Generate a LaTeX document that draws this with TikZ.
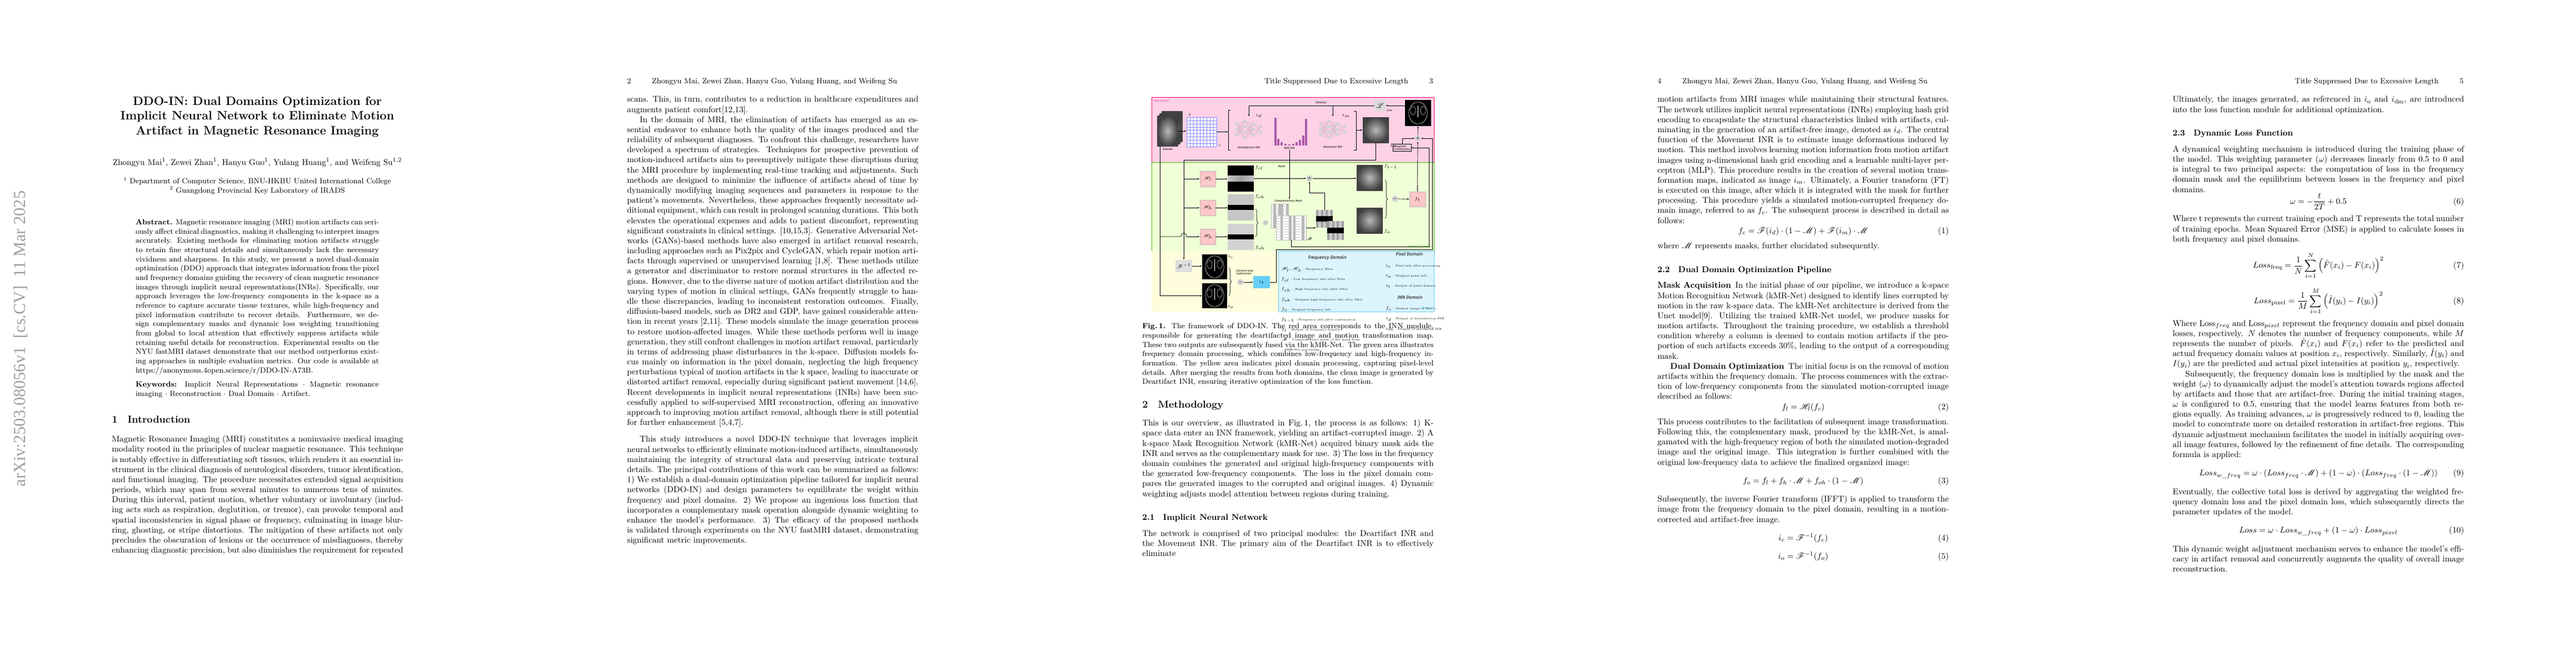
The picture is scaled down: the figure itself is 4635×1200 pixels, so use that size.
\documentclass[tikz,border=0pt]{standalone}
\usepackage{fontspec}
\usepackage{amsmath}
\usepackage{mathrsfs}
\usetikzlibrary{arrows.meta,decorations.pathreplacing,calc}
\newfontfamily\stampfont{Liberation Serif}
\newfontfamily\figsans{Fira Sans}
\newcommand\bodyf{\fontsize{10}{12}\selectfont}
\newcommand\smallf{\fontsize{9}{11}\selectfont}
\newcommand\figf{\figsans\itshape\fontsize{3.4}{3.9}\selectfont}
\newcommand\legf{\fontsize{3.4}{4.6}\selectfont}
\newcommand\pstart{\setlength\parindent{15pt}\setlength\parskip{0pt}\noindent}
\tikzset{
 body/.style={anchor=north west, inner sep=0, text width=346pt, align=justify, font=\bodyf},
 arr/.style={-{Latex[length=2.2pt,width=1.8pt]}, line width=0.45pt},
 ln/.style={line width=0.45pt},
 sz/.style 2 args={minimum width={#1*0.66pt}, minimum height={#2*0.66pt}, inner sep=0},
 kimg/.style={shading=radial, inner color=gray!55, outer color=black!75},
 brain/.style={fill=black, path picture={\draw[white!85, line width=0.35pt] (path picture bounding box.center) ellipse[x radius=11pt, y radius=13pt];
   \draw[white!70, line width=0.3pt] ([yshift=9pt]path picture bounding box.center) -- ([yshift=-5pt]path picture bounding box.center);
   \draw[white!55, line width=0.25pt] ([xshift=-6pt,yshift=3pt]path picture bounding box.center) ellipse[x radius=3pt, y radius=5pt];
   \draw[white!55, line width=0.25pt] ([xshift=6pt,yshift=3pt]path picture bounding box.center) ellipse[x radius=3pt, y radius=5pt];}},
 fbox/.style={draw=gray!55, fill=red!22, font=\fontsize{5.5}{5.5}\selectfont},
 opc/.style={circle, fill=gray!35, minimum size=6.6pt, inner sep=0, font=\fontsize{6}{6}\selectfont},
 band/.style={fill=gray!45, path picture={\fill[black] ([yshift=-3.2pt]path picture bounding box.west) rectangle ([yshift=3.2pt]path picture bounding box.east);}},
 lowband/.style={fill=black, path picture={\shade[left color=gray!45, right color=gray!45, middle color=gray!75] ([yshift=-3.6pt]path picture bounding box.west) rectangle ([yshift=3.6pt]path picture bounding box.east);}},
 stripes/.style={fill=white, draw=gray!50, line width=0.2pt, path picture={
   \foreach \k in {1,3,4,6}{\fill[gray!60] ($(path picture bounding box.south west)!{\k/7}!(path picture bounding box.south east)$) rectangle ++(3pt,40pt);}
   \foreach \k in {1,...,8}{\draw[gray!40,line width=0.15pt] ($(path picture bounding box.south west)!{\k/9}!(path picture bounding box.north west)$) -- ++(40pt,0);}}},
 mstripes/.style={fill=gray!40, path picture={
   \foreach \k in {0,2,4,6}{\fill[gray!75] ($(path picture bounding box.south west)!{\k/7}!(path picture bounding box.south east)$) rectangle ++(2.8pt,40pt);}
   \fill[black] ([yshift=-3pt]path picture bounding box.west) rectangle ([yshift=3pt]path picture bounding box.east);}},
 lab/.style={font=\figf, inner sep=0.5pt},
 hdr/.style={font=\smallf, inner sep=0}
}
\newcommand\nnet[2]{%
 \foreach \a in {-10,0,10}{\foreach \b in {-15,-5,5,15}{\draw[gray!70,line width=0.2pt] ({#1-22},{#2+\a}) -- ({#1-7},{#2+\b});}}
 \foreach \a in {-15,-5,5,15}{\foreach \b in {-10,0,10}{\draw[gray!70,line width=0.2pt] ({#1-7},{#2+\a}) -- ({#1+8},{#2+\b});}}
 \foreach \a in {-10,0,10}{\foreach \b in {-5,5}{\draw[gray!70,line width=0.2pt] ({#1+8},{#2+\a}) -- ({#1+22},{#2+\b});}}
 \foreach \a in {-10,0,10}{\fill[gray!35] ({#1-22},{#2+\a}) circle[radius=2pt]; \fill[gray!35] ({#1+8},{#2+\a}) circle[radius=2pt];}
 \foreach \a in {-15,-5,5,15}{\fill[gray!35] ({#1-7},{#2+\a}) circle[radius=2pt];}
 \foreach \a in {-5,5}{\fill[gray!35] ({#1+22},{#2+\a}) circle[radius=2pt];}}
\begin{document}
\begin{tikzpicture}[x=0.66pt,y=-0.66pt]
\useasboundingbox (0,0) rectangle (4635,1200);
\fill[white] (0,0) rectangle (4635,1200);

% ================= PAGE 1 =================
\node[rotate=90, text=gray!75, font=\stampfont\fontsize{20}{20}\selectfont, inner sep=0] (stamp) at (37,610) {arXiv:2503.08056v1\ \ [cs.CV]\ \ 11 Mar 2025};
\node[anchor=north, inner sep=0, align=center, font=\fontsize{14.4}{17.3}\selectfont\bfseries] (title) at (463,174)
 {DDO-IN: Dual Domains Optimization for\\Implicit Neural Network to Eliminate Motion\\Artifact in Magnetic Resonance Imaging};
\node[anchor=base, inner sep=0, font=\bodyf] (authors) at (463,297)
 {Zhongyu Mai$^{1}$, Zewei Zhan$^{1}$, Hanyu Guo$^{1}$, Yulang Huang$^{1}$, and Weifeng Su$^{1,2}$};
\node[anchor=north, inner sep=0, align=center, font=\smallf] (affil) at (463,319)
 {$^{1}$ Department of Computer Science, BNU-HKBU United International College\\ $^{2}$ Guangdong Provincial Key Laboratory of IRADS};
\node[anchor=north, inner sep=0, text width=289pt, align=justify, font=\smallf] (abstract) at (463,394)
 {\textbf{Abstract.} Magnetic resonance imaging (MRI) motion artifacts can seriously affect clinical diagnostics, making it challenging to interpret images accurately. Existing methods for eliminating motion artifacts struggle to retain fine structural details and simultaneously lack the necessary vividness and sharpness. In this study, we present a novel dual-domain optimization (DDO) approach that integrates information from the pixel and frequency domains guiding the recovery of clean magnetic resonance images through implicit neural representations(INRs). Specifically, our approach leverages the low-frequency components in the k-space as a reference to capture accurate tissue textures, while high-frequency and pixel information contribute to recover details. Furthermore, we design complementary masks and dynamic loss weighting transitioning from global to local attention that effectively suppress artifacts while retaining useful details for reconstruction. Experimental results on the NYU fastMRI dataset demonstrate that our method outperforms existing approaches in multiple evaluation metrics. Our code is available at https://anonymous.4open.science/r/DDO-IN-A73B.};
\node[anchor=north, inner sep=0, text width=289pt, align=justify, font=\smallf] (keywords) at (463,687)
 {\textbf{Keywords:} Implicit Neural Representations $\cdot$ Magnetic resonance imaging $\cdot$ Reconstruction $\cdot$ Dual Domain $\cdot$ Artifact.};
\node[anchor=base west, inner sep=0, font=\fontsize{12}{14}\selectfont\bfseries] (sec1) at (201,761) {1\hspace{1em}Introduction};
\node[body] (p1text) at (201,784) {\pstart Magnetic Resonance Imaging (MRI) constitutes a noninvasive medical imaging modality rooted in the principles of nuclear magnetic resonance. This technique is notably effective in differentiating soft tissues, which renders it an essential instrument in the clinical diagnosis of neurological disorders, tumor identification, and functional imaging. The procedure necessitates extended signal acquisition periods, which may span from several minutes to numerous tens of minutes. During this interval, patient motion, whether voluntary or involuntary (including acts such as respiration, deglutition, or tremor), can provoke temporal and spatial inconsistencies in signal phase or frequency, culminating in image blurring, ghosting, or stripe distortions. The mitigation of these artifacts not only precludes the obscuration of lesions or the occurrence of misdiagnoses, thereby enhancing diagnostic precision, but also diminishes the requirement for repeated};

% ================= PAGE 2 =================
\node[hdr, anchor=base west] (h2) at (1128,150) {2\hspace{25pt}Zhongyu Mai, Zewei Zhan, Hanyu Guo, Yulang Huang, and Weifeng Su};
\node[body] (p2text) at (1128,173) {\pstart scans. This, in turn, contributes to a reduction in healthcare expenditures and augments patient comfort[12,13].

In the domain of MRI, the elimination of artifacts has emerged as an essential endeavor to enhance both the quality of the images produced and the reliability of subsequent diagnoses. To confront this challenge, researchers have developed a spectrum of strategies. Techniques for prospective prevention of motion-induced artifacts aim to preemptively mitigate these disruptions during the MRI procedure by implementing real-time tracking and adjustments. Such methods are designed to minimize the influence of artifacts ahead of time by dynamically modifying imaging sequences and parameters in response to the patient's movements. Nevertheless, these approaches frequently necessitate additional equipment, which can result in prolonged scanning durations. This both elevates the operational expenses and adds to patient discomfort, representing significant constraints in clinical settings. [10,15,3]. Generative Adversarial Networks (GANs)-based methods have also emerged in artifact removal research, including approaches such as Pix2pix and CycleGAN, which repair motion artifacts through supervised or unsupervised learning [1,8]. These methods utilize a generator and discriminator to restore normal structures in the affected regions. However, due to the diverse nature of motion artifact distribution and the varying types of motion in clinical settings, GANs frequently struggle to handle these discrepancies, leading to inconsistent restoration outcomes. Finally, diffusion-based models, such as DR2 and GDP, have gained considerable attention in recent years [2,11]. These models simulate the image generation process to restore motion-affected images. While these methods perform well in image generation, they still confront challenges in motion artifact removal, particularly in terms of addressing phase disturbances in the k-space. Diffusion models focus mainly on information in the pixel domain, neglecting the high frequency perturbations typical of motion artifacts in the k space, leading to inaccurate or distorted artifact removal, especially during significant patient movement [14,6]. Recent developments in implicit neural representations (INRs) have been successfully applied to self-supervised MRI reconstruction, offering an innovative approach to improving motion artifact removal, although there is still potential for further enhancement [5,4,7].

\vspace{8pt}
This study introduces a novel DDO-IN technique that leverages implicit neural networks to efficiently eliminate motion-induced artifacts, simultaneously maintaining the integrity of structural data and preserving intricate textural details. The principal contributions of this work can be summarized as follows: 1) We establish a dual-domain optimization pipeline tailored for implicit neural networks (DDO-IN) and design parameters to equilibrate the weight within frequency and pixel domains. 2) We propose an ingenious loss function that incorporates a complementary mask operation alongside dynamic weighting to enhance the model's performance. 3) The efficacy of the proposed methods is validated through experiments on the NYU fastMRI dataset, demonstrating significant metric improvements.};

% ================= PAGE 3 =================
\node[hdr, anchor=base east] (h3) at (2579,150) {Title Suppressed Due to Excessive Length\hspace{25pt}3};
% --- figure regions
\fill[red!55!magenta!18] (2072,175) rectangle (2580,292);
\draw[red!60!magenta, line width=0.4pt] (2072,175) rectangle (2580,292);
\fill[green!40!yellow!16] (2072,292) rectangle (2580,452);
\draw[green!50!olive, line width=0.4pt] (2072,292) rectangle (2580,452);
\fill[yellow!14] (2072,452) rectangle (2300,561);
\fill[cyan!14] (2300,452) rectangle (2580,561);
\draw[cyan!60, line width=0.4pt] (2300,452) rectangle (2580,561);
\node[lab, anchor=west, text=magenta!70] (innlab) at (2075,182) {INN domain};
\node[lab, anchor=east, text=green!55!olive] (freqlab) at (2576,444) {Frequency domain};
\node[lab, anchor=east, text=cyan!70] (remark) at (2577,555) {*Remark};
% --- INN part
\node[kimg, sz={37}{55}] (ds3) at (2109,228) {};
\node[kimg, sz={37}{55}] (ds2) at (2105,232) {};
\node[kimg, sz={37}{55}] (ds) at (2101,236) {};
\node[lab, anchor=north] (dslab) at (2101,266) {Dataset};
\node[sz={54}{53}, fill=white] (grid) at (2162,237.5) {};
\foreach \k in {0,...,9}{\draw[blue!45, line width=0.2pt] ({2135+6*\k},211) -- ({2135+6*\k},264); \draw[blue!45, line width=0.2pt] (2135,{211+5.9*\k}) -- (2189,{211+5.9*\k});}
\node[lab, anchor=south, font=\fontsize{4.5}{4.5}\selectfont\itshape] (ylab) at (2140,210) {y};
\node[lab, anchor=west, font=\fontsize{4.5}{4.5}\selectfont\itshape] (xlab) at (2191,262) {x};
\coordinate (brL) at (2210,237.5);
\draw[ln] (2214,198) -- (2210,198) -- (2210,270) -- (2214,270);
\nnet{2247}{233}
\node[sz={60}{46}] (deart) at (2247,233) {};
\node[lab, anchor=north] (deartlab) at (2247,262) {Deartifaction INR};
\node[font=\fontsize{4.5}{4.5}\selectfont, inner sep=0] (idlab) at (2265,208) {$i_d$};
\node[sz={60}{52}] (kmr) at (2320,236) {};
\foreach \bx/\bh in {2293/50,2298/12,2304/6,2311/3,2318/2,2325/3,2331/6,2337/10,2343/18,2348/48}{\fill[violet!65] (\bx,262) rectangle ({\bx+3.5},{262-\bh});}
\node[lab, anchor=north] (kmrlab) at (2320,264) {kMR-Net};
\nnet{2398}{233}
\node[sz={60}{46}] (move) at (2398,233) {};
\node[lab, anchor=north] (movelab) at (2398,262) {Movement INR};
\node[font=\fontsize{4.5}{4.5}\selectfont, inner sep=0] (imlab) at (2422,208) {$i_m$};
\draw[ln] (2436,200) -- (2440,200) -- (2440,270) -- (2436,270);
\coordinate (brR) at (2440,234);
\node[kimg, sz={47}{46}] (fc) at (2475.5,234) {};
\node[font=\fontsize{4.5}{4.5}\selectfont, inner sep=0] (fclab) at (2506,262) {$f_c$};
\node[sz={20}{20}, fill=gray!30, font=\fontsize{8}{8}\selectfont] (loss) at (2483,190) {$\mathscr{L}$};
\node[lab, anchor=north west] (losslab) at (2494,196) {Loss};
\node[brain, sz={47}{47}] (brain1) at (2551.5,203.5) {};
\node[opc] (p1) at (2551,249) {$+$};
\node[draw, line width=0.35pt, lab, align=left, inner sep=1pt] (wc) at (2523,266) {Weighted\\Combination};
\node[lab] (iterlab) at (2377,185) {Iteration};
\coordinate (it1) at (2247,190);
% --- frequency part
\node[fbox, sz={28}{28}] (Hl) at (2173,322) {$\mathscr{H}_l$};
\node[fbox, sz={28}{28}] (Hh1) at (2173,374) {$\mathscr{H}_h$};
\node[fbox, sz={28}{28}] (Hh2) at (2173,426) {$\mathscr{H}_h$};
\node[lowband, sz={47}{47}] (fcl) at (2232.5,321.5) {};
\node[band, sz={47}{47}] (fch) at (2232.5,373.5) {};
\node[band, sz={47}{47}, fill=gray!35] (foh) at (2232.5,426.5) {};
\node[font=\fontsize{4.5}{4.5}\selectfont, inner sep=0, anchor=west] (fcllab) at (2258,302) {$f_{cl}$};
\node[font=\fontsize{4.5}{4.5}\selectfont, inner sep=0, anchor=west] (fchlab) at (2258,354) {$f_{ch}$};
\node[font=\fontsize{4.5}{4.5}\selectfont, inner sep=0, anchor=west] (fohlab) at (2258,446) {$f_{oh}$};
\node[opc] (dot) at (2277,401) {$\cdot$};
\node[lab, anchor=south] (cmlab) at (2318,366) {Complementary Mask};
\node[stripes, sz={31}{43}] (cmask1) at (2302.5,388.5) {};
\node[stripes, sz={54}{44}] (cmask2) at (2323,410) {};
\node[font=\fontsize{5}{5}\selectfont, inner sep=0] (mlab) at (2356,430) {$\mathscr{M}$};
\node[mstripes, sz={30}{32}] (masked1) at (2383,394) {};
\node[mstripes, sz={30}{34}] (masked2) at (2403,415) {};
\node[lab] (masklab) at (2306,300) {Mask};
\node[opc] (p2) at (2356,321) {$+$};
\node[kimg, sz={47}{46}] (ftm1) at (2464.5,320) {};
\node[kimg, sz={47}{46}] (fo) at (2464.5,397) {};
\node[font=\fontsize{4.5}{4.5}\selectfont, inner sep=0, anchor=west] (ftm1lab) at (2490,300) {$f_{t-1}$};
\node[font=\fontsize{4.5}{4.5}\selectfont, inner sep=0, anchor=west] (folab) at (2490,417) {$f_o$};
\node[opc] (m1) at (2510,358) {$-$};
\node[fbox, sz={29}{27}] (ft) at (2550.5,358.5) {$f_t$};
% --- pixel part
\node[sz={30}{22}, fill=gray!25, font=\fontsize{6}{6}\selectfont] (Finv) at (2130,479) {$\mathscr{F}^{-1}$};
\node[brain, sz={45}{45}] (ic) at (2185.5,480.5) {};
\node[brain, sz={45}{45}] (io) at (2185.5,532.5) {};
\node[font=\fontsize{4.5}{4.5}\selectfont, inner sep=0, anchor=west] (iclab) at (2209,462) {$i_c$};
\node[font=\fontsize{4.5}{4.5}\selectfont, inner sep=0, anchor=west] (iolab) at (2209,552) {$i_o$};
\node[lab, align=left] (ewlab) at (2240,490) {Element-wise\\Subtraction};
\node[opc] (m2) at (2232,508) {$-$};
\node[sz={30}{22}, fill=cyan!60, font=\fontsize{5}{5}\selectfont] (it) at (2270,508) {$i_t$};
% --- legend
\node[anchor=north west, inner sep=0, align=left] (legF) at (2305,460) {\hspace*{32pt}{\figsans\itshape\fontsize{5.5}{6}\selectfont Frequency Domain}\\[1pt]
 \legf $\mathscr{H}_l,\mathscr{H}_h$ : Frequency filter\\ \legf $f_{cl}$ : Low frequency info after filter\\ \legf $f_{ch}$ : High frequency info after filter\\ \legf $f_{oh}$ : Original high frequency info after filter\\ \legf $f_o$ : Original frequency info\\ \legf $f_{t-1}$ : Frequency info after combination\\ \legf $f_t$ : Output of frequency domain\\ \legf $\mathscr{M}$ : Complementary mask of the mask from\\ \legf \hspace*{4pt}kMR-Net processing};
\node[anchor=north west, inner sep=0, align=left] (legP) at (2493,454) {\hspace*{12pt}{\figsans\itshape\fontsize{5.5}{6}\selectfont Pixel Domain}\\[1pt]
 \legf $i_c$ : Pixel info after processing\\ \legf $i_o$ : Original pixel info\\ \legf $i_t$ : Output of pixel domain\\[2pt]
 \hspace*{14pt}{\figsans\itshape\fontsize{5.5}{6}\selectfont INN Domain}\\[1pt]
 \legf $f_c$ : Output image of MoCo\\ \legf $i_d$ : Output of deartifaction INR\\ \legf $i_m$ : Output of movement INR};
% --- connectors
\draw[arr] (ds.east) -- (ds.east -| grid.west);
\draw[arr] (grid.east) -- (brL);
\draw[arr] (brR) -- (fc.west);
\coordinate (j1) at (2130,288);
\draw[ln] (fc.south) |- (j1);
\draw[arr] (j1) -- (Finv.north);
\draw[arr] (j1 |- Hl.west) -- (Hl.west);
\draw[arr] (j1 |- Hh1.west) -- (Hh1.west);
\coordinate (dsl) at (2087,263);
\draw[arr] (dsl) |- (io.west);
\coordinate (hopA) at (2125,426);
\coordinate (hopB) at (2135,426);
\draw[ln] (dsl |- hopA) -- (hopA) .. controls (2126,417) and (2134,417) .. (hopB);
\draw[arr] (hopB) -- (Hh2.west);
\draw[arr] (Hl.east) -- (Hl.east -| fcl.west);
\draw[arr] (Hh1.east) -- (Hh1.east -| fch.west);
\draw[arr] (Hh2.east) -- (Hh2.east -| foh.west);
\draw[ln, decorate, decoration={brace, amplitude=3pt}] (2259,376) -- (2259,426);
\draw[arr] (fcl.east |- p2.west) -- (p2.west);
\draw[arr] (kmr.south |- kmrlab.south) -- (kmr.south |- cmlab.north);
\draw[arr] (cmask2.east) -- (cmask2.east -| masked1.west);
\draw[arr] (masked1.north) -- ++(0,-30) -| (p2.south);
\draw[arr] (p2.east) -- (p2.east -| ftm1.west);
\draw[ln, decorate, decoration={brace, amplitude=3pt}] (2492,324) -- (2492,393);
\draw[arr] (m1.east) -- (ft.west);
\draw[arr] (ft.north) -- (p1.south);
\draw[arr] (wc.north) |- (p1.west);
\draw[arr] (p1.north) -- (brain1.south);
\draw[arr] (brain1.west |- loss.east) -- (loss.east);
\draw[ln] (loss.west) -- (it1);
\draw[arr] (it1) -- (deart.north);
\draw[arr] (it1 -| move.north) -- (move.north);
\coordinate (rk1) at (2571,444);
\draw[arr] (cmask2.south) |- (rk1) |- (wc.east);
\draw[arr] (Finv.east) -- (Finv.east -| ic.west);
\draw[ln, decorate, decoration={brace, amplitude=3pt}] (2211,482) -- (2211,532);
\draw[arr] (m2.east) -- (it.west);
\coordinate (rk2) at (2296,449);
\coordinate (rk3) at (2577,449);
\draw[arr] (it.east) -| (rk2) -- (rk3) |- (p1.east);
% --- caption and text
\node[anchor=north west, inner sep=0, text width=346pt, align=justify, font=\smallf] (caption) at (2055,582)
 {\textbf{Fig.\,1.} The framework of DDO-IN. The red area corresponds to the INN module, responsible for generating the deartifacted image and motion transformation map. These two outputs are subsequently fused via the kMR-Net. The green area illustrates frequency domain processing, which combines low-frequency and high-frequency information. The yellow area indicates pixel domain processing, capturing pixel-level details. After merging the results from both domains, the clean image is generated by Deartifact INR, ensuring iterative optimization of the loss function.};
\node[body] (p3text) at (2055,722) {\pstart {\fontsize{12}{14}\selectfont\bfseries 2\hspace{1em}Methodology}\par\vspace{9pt}
\noindent This is our overview, as illustrated in Fig.\,1, the process is as follows: 1) K-space data enter an INN framework, yielding an artifact-corrupted image. 2) A k-space Mask Recognition Network (kMR-Net) acquired binary mask aids the INR and serves as the complementary mask for use. 3) The loss in the frequency domain combines the generated and original high-frequency components with the generated low-frequency components. The loss in the pixel domain compares the generated images to the corrupted and original images. 4) Dynamic weighting adjusts model attention between regions during training.\par\vspace{16pt}
\noindent{\bfseries 2.1\hspace{1em}Implicit Neural Network}\par\vspace{7pt}
\noindent The network is comprised of two principal modules: the Deartifact INR and the Movement INR. The primary aim of the Deartifact INR is to effectively eliminate};

% ================= PAGE 4 =================
\node[hdr, anchor=base west] (h4) at (2982,150) {4\hspace{25pt}Zhongyu Mai, Zewei Zhan, Hanyu Guo, Yulang Huang, and Weifeng Su};
\node[body] (p4text) at (2982,173) {\pstart motion artifacts from MRI images while maintaining their structural features. The network utilizes implicit neural representations (INRs) employing hash grid encoding to encapsulate the structural characteristics linked with artifacts, culminating in the generation of an artifact-free image, denoted as $i_d$. The central function of the Movement INR is to estimate image deformations induced by motion. This method involves learning motion information from motion artifact images using n-dimensional hash grid encoding and a learnable multi-layer perceptron (MLP). This procedure results in the creation of several motion transformation maps, indicated as image $i_m$. Ultimately, a Fourier transform (FT) is executed on this image, after which it is integrated with the mask for further processing. This procedure yields a simulated motion-corrupted frequency domain image, referred to as $f_c$. The subsequent process is described in detail as follows:
\begin{equation*} f_c = \mathscr{F}(i_d)\cdot(1-\mathscr{M}) + \mathscr{F}(i_m)\cdot\mathscr{M} \tag{1}\end{equation*}
where $\mathscr{M}$ represents masks, further elucidated subsequently.\par\vspace{16pt}
\noindent{\bfseries 2.2\hspace{1em}Dual Domain Optimization Pipeline}\par\vspace{7pt}
\noindent\textbf{Mask Acquisition}\hspace{0.5em}In the initial phase of our pipeline, we introduce a k-space Motion Recognition Network (kMR-Net) designed to identify lines corrupted by motion in the raw k-space data. The kMR-Net architecture is derived from the Unet model[9]. Utilizing the trained kMR-Net model, we produce masks for motion artifacts. Throughout the training procedure, we establish a threshold condition whereby a column is deemed to contain motion artifacts if the proportion of such artifacts exceeds 30\%, leading to the output of a corresponding mask.

\textbf{Dual Domain Optimization}\hspace{0.5em}The initial focus is on the removal of motion artifacts within the frequency domain. The process commences with the extraction of low-frequency components from the simulated motion-corrupted image described as follows:
\begin{equation*} f_l = \mathscr{H}_l(f_c) \tag{2}\end{equation*}
This process contributes to the facilitation of subsequent image transformation. Following this, the complementary mask, produced by the kMR-Net, is amalgamated with the high-frequency region of both the simulated motion-degraded image and the original image. This integration is further combined with the original low-frequency data to achieve the finalized organized image:
\begin{equation*} f_o = f_l + f_h\cdot\mathscr{M} + f_{oh}\cdot(1-\mathscr{M}) \tag{3}\end{equation*}
Subsequently, the inverse Fourier transform (IFFT) is applied to transform the image from the frequency domain to the pixel domain, resulting in a motion-corrected and artifact-free image.
\begin{equation*} i_c = \mathscr{F}^{-1}(f_c) \tag{4}\end{equation*}
\begin{equation*} i_o = \mathscr{F}^{-1}(f_o) \tag{5}\end{equation*}};

% ================= PAGE 5 =================
\node[hdr, anchor=base east] (h5) at (4433,150) {Title Suppressed Due to Excessive Length\hspace{25pt}5};
\node[body] (p5text) at (3909,173) {\pstart Ultimately, the images generated, as referenced in $i_{\mathrm{o}}$ and $i_{\mathrm{dm}}$, are introduced into the loss function module for additional optimization.\par\vspace{16pt}
\noindent{\bfseries 2.3\hspace{1em}Dynamic Loss Function}\par\vspace{7pt}
\noindent A dynamical weighting mechanism is introduced during the training phase of the model. This weighting parameter ($\omega$) decreases linearly from 0.5 to 0 and is integral to two principal aspects: the computation of loss in the frequency domain mask and the equilibrium between losses in the frequency and pixel domains.
\begin{equation*} \omega = -\frac{t}{2T} + 0.5 \tag{6}\end{equation*}
Where t represents the current training epoch and T represents the total number of training epochs. Mean Squared Error (MSE) is applied to calculate losses in both frequency and pixel domains.
\begin{equation*} Loss_{\mathrm{freq}} = \frac{1}{N}\sum_{i=1}^{N}\Big(\hat{F}(x_i)-F(x_i)\Big)^2 \tag{7}\end{equation*}
\begin{equation*} Loss_{\mathrm{pixel}} = \frac{1}{M}\sum_{i=1}^{M}\Big(\hat{I}(y_i)-I(y_i)\Big)^2 \tag{8}\end{equation*}
Where Loss$_{freq}$ and Loss$_{pixel}$ represent the frequency domain and pixel domain losses, respectively. $N$ denotes the number of frequency components, while $M$ represents the number of pixels. $\hat{F}(x_i)$ and $F(x_i)$ refer to the predicted and actual frequency domain values at position $x_i$, respectively. Similarly, $\hat{I}(y_i)$ and $I(y_i)$ are the predicted and actual pixel intensities at position $y_i$, respectively.

Subsequently, the frequency domain loss is multiplied by the mask and the weight ($\omega$) to dynamically adjust the model's attention towards regions affected by artifacts and those that are artifact-free. During the initial training stages, $\omega$ is configured to 0.5, ensuring that the model learns features from both regions equally. As training advances, $\omega$ is progressively reduced to 0, leading the model to concentrate more on detailed restoration in artifact-free regions. This dynamic adjustment mechanism facilitates the model in initially acquiring overall image features, followed by the refinement of fine details. The corresponding formula is applied:
\begin{equation*} Loss_{w\_freq} = \omega\cdot(Loss_{freq}\cdot\mathscr{M}) + (1-\omega)\cdot(Loss_{freq}\cdot(1-\mathscr{M})) \tag{9}\end{equation*}
\noindent Eventually, the collective total loss is derived by aggregating the weighted frequency domain loss and the pixel domain loss, which subsequently directs the parameter updates of the model.
\begin{equation*} Loss = \omega\cdot Loss_{w\_freq} + (1-\omega)\cdot Loss_{pixel} \tag{10}\end{equation*}
\noindent This dynamic weight adjustment mechanism serves to enhance the model's efficacy in artifact removal and concurrently augments the quality of overall image reconstruction.};
\end{tikzpicture}
\end{document}
